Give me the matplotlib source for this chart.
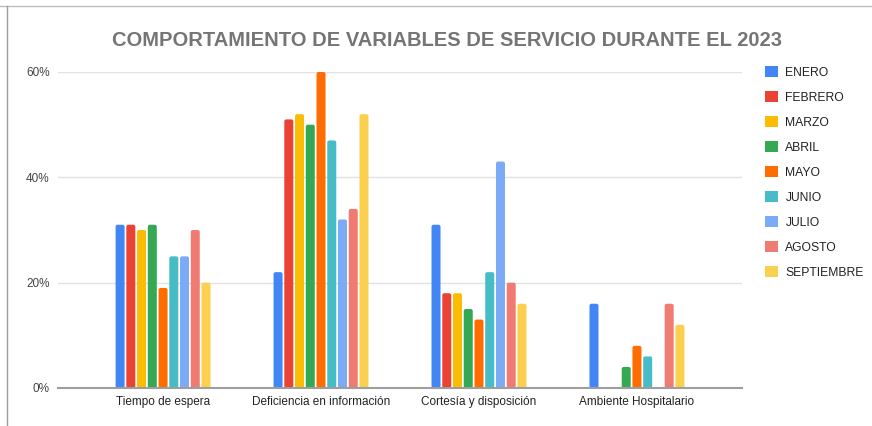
import matplotlib
matplotlib.use('Agg')
import matplotlib.pyplot as plt
from matplotlib.lines import Line2D
from matplotlib.patches import FancyBboxPatch, Patch
import numpy as np

plt.rcParams['font.family'] = ['Liberation Sans', 'DejaVu Sans']

categorias = ['Tiempo de espera', 'Deficiencia en información',
              'Cortesía y disposición', 'Ambiente Hospitalario']
meses = ['ENERO', 'FEBRERO', 'MARZO', 'ABRIL', 'MAYO', 'JUNIO',
         'JULIO', 'AGOSTO', 'SEPTIEMBRE']
enero = [31, 22, 31, 16]
febrero = [31, 51, 18, 0]
marzo = [30, 52, 18, 0]
abril = [31, 50, 15, 4]
mayo = [19, 60, 13, 8]
junio = [25, 47, 22, 6]
julio = [25, 32, 43, 0]
agosto = [30, 34, 20, 16]
septiembre = [20, 52, 16, 12]
series = [enero, febrero, marzo, abril, mayo, junio, julio, agosto, septiembre]
colores = ['#4285F4', '#EA4335', '#FBBC04', '#34A853', '#FF6D01',
           '#46BDC6', '#7BAAF7', '#F07B72', '#FCD04F']

fig = plt.figure(figsize=(8.72, 4.26), dpi=100)
ax = fig.add_axes([58/872, 1-388/426, (742-58)/872, (388-72)/426])

x = np.arange(len(categorias))
slot = 0.068
for i, (vals, c, m) in enumerate(zip(series, colores, meses)):
    barras = ax.bar(x + (i - 4) * slot, vals, width=0.057, color=c, zorder=3)
    # esquinas redondeadas como en google sheets
    for r in barras:
        r.set_visible(False)
        if r.get_height() <= 0:
            continue
        p = FancyBboxPatch((r.get_x(), r.get_y()), r.get_width(), r.get_height(),
                           boxstyle='round,pad=0,rounding_size=0.013',
                           mutation_aspect=30, facecolor=c, edgecolor='none', zorder=3)
        ax.add_patch(p)

ax.set_xlim(-0.665, 3.665)
ax.set_ylim(0, 60)
ax.set_yticks([0, 20, 40, 60])
ax.set_yticklabels(['0%', '20%', '40%', '60%'], fontsize=8.5, color='#444444')
ax.set_xticks(x)
ax.set_xticklabels(categorias, fontsize=8.5, color='#222222')
ax.tick_params(length=0, pad=6)
ax.grid(axis='y', color='#e2e2e2', linewidth=1, zorder=0)
for s in ['top', 'right', 'left']:
    ax.spines[s].set_visible(False)
ax.spines['bottom'].set_color('#9e9e9e')
ax.spines['bottom'].set_linewidth(1.5)
ax.spines['bottom'].set_zorder(4)

fig.text(447/872, 1-40/426, 'COMPORTAMIENTO DE VARIABLES DE SERVICIO DURANTE EL 2023',
         ha='center', va='center', fontsize=14.5, fontweight='bold', color='#757575')

handles = [Patch(facecolor=c, edgecolor='none', label=m) for c, m in zip(colores, meses)]
leg = fig.legend(handles=handles, loc='upper left', bbox_to_anchor=(760/872, 1-61/426),
                 frameon=False, fontsize=8.7, handlelength=1.1, handleheight=1.1,
                 handletextpad=0.6, labelspacing=1.0, borderaxespad=0)
for t in leg.get_texts():
    t.set_color('#222222')

# marco de la captura
fig.add_artist(Line2D([0, 1], [1-6/426, 1-6/426], color='#bdbdbd', linewidth=1))
fig.add_artist(Line2D([7/872, 7/872], [0, 1-6/426], color='#9e9e9e', linewidth=1))

fig.savefig('out.png', dpi=100)
